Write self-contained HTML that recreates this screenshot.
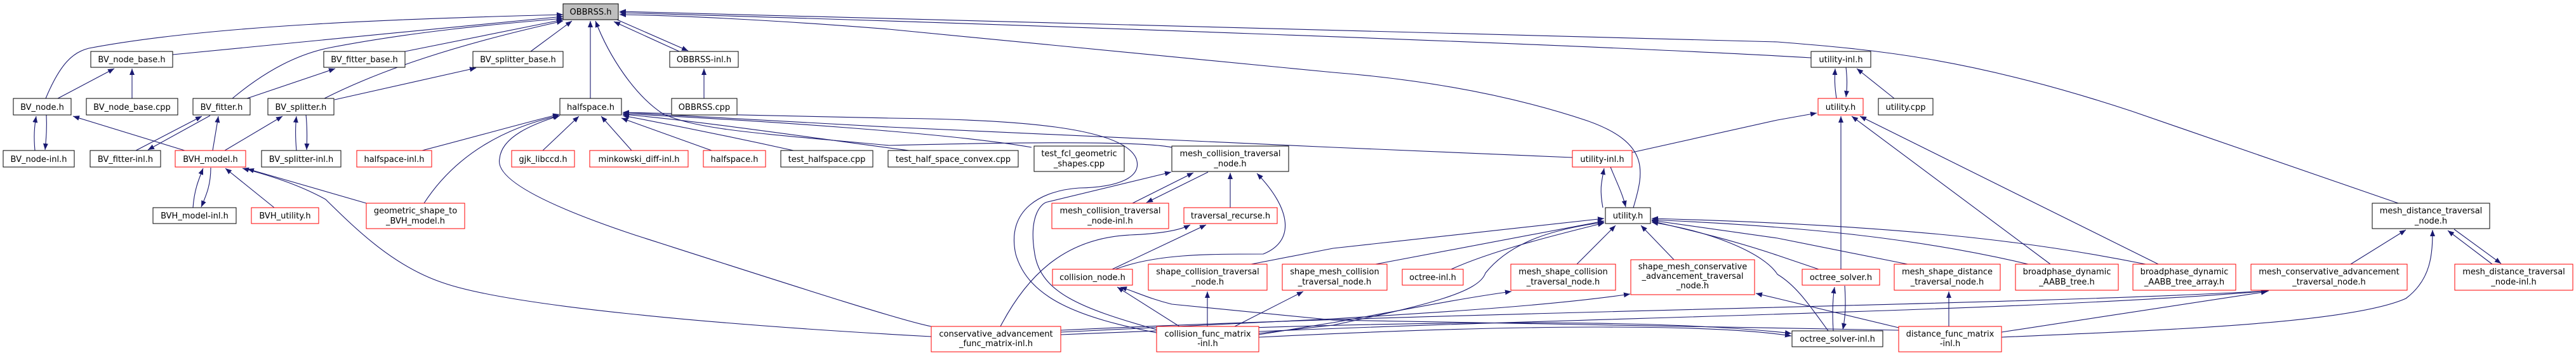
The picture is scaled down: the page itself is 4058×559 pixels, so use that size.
<!DOCTYPE html>
<html><head><meta charset="utf-8"><style>
html,body{margin:0;padding:0;background:#fff;}
svg{display:block;}
text{font-family:"DejaVu Sans","Liberation Sans",sans-serif;font-size:13px;fill:#000;}
.e{fill:none;stroke:#191970;stroke-width:1.1;marker-end:url(#a);}
.n{fill:#fff;stroke:#000;stroke-width:1;}
.r{fill:#fff;stroke:#ff0000;stroke-width:1;}
</style></head><body>
<svg width="4058" height="559" viewBox="0 0 4058 559" xmlns="http://www.w3.org/2000/svg">
<defs><marker id="a" markerUnits="userSpaceOnUse" markerWidth="11" markerHeight="8" refX="10" refY="4" orient="auto"><path d="M0,0 L10,4 L0,8 z" fill="#191970"/></marker></defs>
<g>
<path class="e" d="M72,155 C95,100 115,82 140,76 C330,40 620,30 887,23"/>
<path class="e" d="M272,86 L887,26"/>
<path class="e" d="M366,155 C420,110 470,85 520,75 C650,50 780,38 887,29"/>
<path class="e" d="M638,81 L887,31"/>
<path class="e" d="M511,155 C600,110 720,70 887,33"/>
<path class="e" d="M527,157 L750,107"/>
<path class="e" d="M836,81 L901,33"/>
<path class="e" d="M930,155 L930,33"/>
<path class="e" d="M1070,81 L967,34"/>
<path class="e" d="M972,31 L1084,80"/>
<path class="e" d="M1109,155 L1109,108"/>
<path class="e" d="M2853,91 C2500,70 1500,35 976,20"/>
<path class="e" d="M3778,320 L3358,175 C3100,90 2950,78 2800,66 C2000,40 1400,25 976,18"/>
<path class="e" d="M2573,327 C2590,270 2600,225 2500,190 C2350,140 2200,122 2100,114 L1400,46 C1200,30 1050,24 976,23"/>
<path class="e" d="M1846,232 C1800,222 1600,224 1400,229 C1200,210 1100,205 1044,179 C1000,150 960,90 938,33"/>
<path class="e" d="M1822,524 C1700,500 1620,470 1600,400 C1585,330 1640,300 1700,296 C1760,295 1800,280 1790,250 C1770,200 1600,188 1400,186 L981,177"/>
<path class="e" d="M1822,519 C1700,485 1640,460 1630,400 C1620,340 1640,320 1650,318 L1845,271"/>
<path class="e" d="M855,237 L912,183"/>
<path class="e" d="M995,237 L947,183"/>
<path class="e" d="M1121,237 L979,186"/>
<path class="e" d="M1250,237 C1150,215 1050,195 981,182"/>
<path class="e" d="M1432,237 C1300,220 1100,190 981,180"/>
<path class="e" d="M1625,232 C1500,210 1200,190 981,179"/>
<path class="e" d="M2477,248 L2100,232 L1400,200 C1200,190 1050,180 981,177"/>
<path class="e" d="M665,237 C750,215 820,195 881,180"/>
<path class="e" d="M668,320 C720,240 800,200 881,182"/>
<path class="e" d="M1467,514 C1420,505 1250,450 1000,370 C850,320 780,280 787,250 C790,215 840,195 882,182"/>
<path class="e" d="M291,237 L115,183"/>
<path class="e" d="M335,237 L344,183"/>
<path class="e" d="M354,237 L445,183"/>
<path class="e" d="M304,327 C306,300 312,285 320,265"/>
<path class="e" d="M332,264 C332,290 326,305 317,326"/>
<path class="e" d="M432,327 L355,265"/>
<path class="e" d="M577,320 L390,266"/>
<path class="e" d="M1467,530 C1100,510 800,480 700,446 C620,420 560,360 513,314 C470,290 420,275 382,265"/>
<path class="e" d="M214,237 L318,183"/>
<path class="e" d="M331,182 L233,236"/>
<path class="e" d="M55,237 C53,215 54,200 57,183"/>
<path class="e" d="M73,181 C74,200 73,215 71,236"/>
<path class="e" d="M91,155 L180,108"/>
<path class="e" d="M208,155 L208,108"/>
<path class="e" d="M389,155 L528,108"/>
<path class="e" d="M467,237 C465,215 465,200 467,183"/>
<path class="e" d="M482,181 C484,200 484,215 483,236"/>
<path class="e" d="M1784,320 L1880,272"/>
<path class="e" d="M1903,271 L1806,319"/>
<path class="e" d="M1938,327 L1938,272"/>
<path class="e" d="M1757,424 C1820,400 1900,400 1990,400 C2040,380 2035,330 1980,273"/>
<path class="e" d="M1752,424 L1900,354"/>
<path class="e" d="M1576,514 C1620,430 1680,375 1780,370 C1830,368 1860,362 1875,354"/>
<path class="e" d="M1858,514 L1760,452"/>
<path class="e" d="M2991,520 L2100,504 L1846,479 C1810,470 1790,460 1765,452"/>
<path class="e" d="M1902,514 L1902,459"/>
<path class="e" d="M1945,514 L2053,459"/>
<path class="e" d="M1971,416 L2100,391 L2527,344"/>
<path class="e" d="M2167,416 L2527,348"/>
<path class="e" d="M2286,424 C2350,395 2450,370 2527,351"/>
<path class="e" d="M1983,525 L2100,512 C2250,480 2330,460 2340,430 C2380,380 2450,360 2527,350"/>
<path class="e" d="M2484,416 L2545,355"/>
<path class="e" d="M2637,409 L2585,355"/>
<path class="e" d="M2865,424 L2800,402 C2720,375 2650,360 2602,348"/>
<path class="e" d="M2880,521 C2850,480 2830,450 2800,432 C2780,400 2700,365 2602,350"/>
<path class="e" d="M3005,416 L2800,375 L2602,347"/>
<path class="e" d="M3195,416 C3000,370 2800,355 2602,346"/>
<path class="e" d="M3380,416 C3200,380 3000,355 2602,344"/>
<path class="e" d="M2525,327 C2520,300 2522,290 2527,265"/>
<path class="e" d="M2537,263 C2548,290 2556,305 2561,326"/>
<path class="e" d="M1671,523 L2100,502 C2300,490 2450,480 2568,463"/>
<path class="e" d="M1983,527 L2100,508 C2200,490 2300,470 2381,459"/>
<path class="e" d="M1671,520 C2300,490 3200,480 3572,458"/>
<path class="e" d="M1983,522 C2500,500 3200,490 3574,458"/>
<path class="e" d="M1983,531 C2400,510 2700,510 2822,529"/>
<path class="e" d="M1671,527 C2200,505 2600,500 2822,525"/>
<path class="e" d="M2991,516 L2800,470 L2766,462"/>
<path class="e" d="M3153,523 L3572,459"/>
<path class="e" d="M3153,531 C3400,520 3700,510 3790,470 C3830,440 3832,400 3832,362"/>
<path class="e" d="M2893,155 C2890,135 2890,125 2891,108"/>
<path class="e" d="M2908,106 C2910,125 2910,135 2908,153"/>
<path class="e" d="M2984,155 L2925,108"/>
<path class="e" d="M2571,240 L2800,189 L2862,178"/>
<path class="e" d="M2900,424 L2900,183"/>
<path class="e" d="M3230,416 L2917,183"/>
<path class="e" d="M3400,416 L2930,183"/>
<path class="e" d="M2888,521 C2886,490 2887,470 2890,452"/>
<path class="e" d="M2906,450 C2908,480 2907,500 2903,519"/>
<path class="e" d="M3070,514 L3070,459"/>
<path class="e" d="M3703,416 L3790,362"/>
<path class="e" d="M3926,416 L3856,363"/>
<path class="e" d="M3866,361 L3940,415"/>
</g>
<g text-anchor="middle">
<rect x="887" y="6" width="87" height="25" fill="#bfbfbf" stroke="#000"/><text x="930.5" y="23">OBBRSS.h</text>
<rect class="n" x="143" y="81" width="129" height="25"/><text x="207.5" y="98">BV_node_base.h</text>
<rect class="n" x="510" y="81" width="128" height="25"/><text x="574" y="98">BV_fitter_base.h</text>
<rect class="n" x="745" y="81" width="142" height="25"/><text x="816" y="98">BV_splitter_base.h</text>
<rect class="n" x="1055" y="81" width="108" height="25"/><text x="1109" y="98">OBBRSS-inl.h</text>
<rect class="n" x="2853" y="81" width="94" height="25"/><text x="2900" y="98">utility-inl.h</text>
<rect class="n" x="21" y="155" width="91" height="26"/><text x="66.5" y="173">BV_node.h</text>
<rect class="n" x="136" y="155" width="144" height="26"/><text x="208" y="173">BV_node_base.cpp</text>
<rect class="n" x="304" y="155" width="90" height="26"/><text x="349" y="173">BV_fitter.h</text>
<rect class="n" x="422" y="155" width="104" height="26"/><text x="474" y="173">BV_splitter.h</text>
<rect class="n" x="882" y="155" width="97" height="26"/><text x="930.5" y="173">halfspace.h</text>
<rect class="n" x="1058" y="155" width="103" height="26"/><text x="1109.5" y="173">OBBRSS.cpp</text>
<rect class="r" x="2864" y="155" width="71" height="26"/><text x="2899.5" y="173">utility.h</text>
<rect class="n" x="2959" y="155" width="86" height="26"/><text x="3002" y="173">utility.cpp</text>
<rect class="n" x="5" y="237" width="112" height="26"/><text x="61" y="255">BV_node-inl.h</text>
<rect class="n" x="142" y="237" width="111" height="26"/><text x="197.5" y="255">BV_fitter-inl.h</text>
<rect class="r" x="276" y="237" width="111" height="26"/><text x="331.5" y="255">BVH_model.h</text>
<rect class="n" x="412" y="237" width="125" height="26"/><text x="474.5" y="255">BV_splitter-inl.h</text>
<rect class="r" x="562" y="237" width="118" height="26"/><text x="621" y="255">halfspace-inl.h</text>
<rect class="r" x="806" y="237" width="99" height="26"/><text x="855.5" y="255">gjk_libccd.h</text>
<rect class="r" x="929" y="237" width="155" height="26"/><text x="1006.5" y="255">minkowski_diff-inl.h</text>
<rect class="r" x="1108" y="237" width="98" height="26"/><text x="1157" y="255">halfspace.h</text>
<rect class="n" x="1230" y="237" width="145" height="26"/><text x="1302.5" y="255">test_halfspace.cpp</text>
<rect class="n" x="1399" y="237" width="205" height="26"/><text x="1501.5" y="255">test_half_space_convex.cpp</text>
<rect class="r" x="2477" y="237" width="94" height="26"/><text x="2524" y="255">utility-inl.h</text>
<rect class="n" x="1629" y="230" width="142" height="40"/><text x="1700" y="246">test_fcl_geometric</text><text x="1700" y="262">_shapes.cpp</text>
<rect class="n" x="1846" y="230" width="184" height="40"/><text x="1938" y="246">mesh_collision_traversal</text><text x="1938" y="262">_node.h</text>
<rect class="n" x="241" y="327" width="131" height="25"/><text x="306.5" y="344">BVH_model-inl.h</text>
<rect class="r" x="396" y="327" width="106" height="25"/><text x="449" y="344">BVH_utility.h</text>
<rect class="r" x="1865" y="327" width="147" height="25"/><text x="1938.5" y="344">traversal_recurse.h</text>
<rect class="n" x="2529" y="327" width="71" height="25"/><text x="2564.5" y="344">utility.h</text>
<rect class="r" x="577" y="320" width="155" height="40"/><text x="654.5" y="336">geometric_shape_to</text><text x="654.5" y="352">_BVH_model.h</text>
<rect class="r" x="1657" y="320" width="184" height="40"/><text x="1749" y="336">mesh_collision_traversal</text><text x="1749" y="352">_node-inl.h</text>
<rect class="n" x="3737" y="320" width="185" height="40"/><text x="3829.5" y="336">mesh_distance_traversal</text><text x="3829.5" y="352">_node.h</text>
<rect class="r" x="1658" y="424" width="126" height="25"/><text x="1721" y="441">collision_node.h</text>
<rect class="r" x="2209" y="424" width="96" height="25"/><text x="2257" y="441">octree-inl.h</text>
<rect class="r" x="2839" y="424" width="122" height="25"/><text x="2900" y="441">octree_solver.h</text>
<rect class="r" x="1809" y="416" width="187" height="41"/><text x="1902.5" y="432">shape_collision_traversal</text><text x="1902.5" y="448">_node.h</text>
<rect class="r" x="2020" y="416" width="165" height="41"/><text x="2102.5" y="432">shape_mesh_collision</text><text x="2102.5" y="448">_traversal_node.h</text>
<rect class="r" x="2380" y="416" width="165" height="41"/><text x="2462.5" y="432">mesh_shape_collision</text><text x="2462.5" y="448">_traversal_node.h</text>
<rect class="r" x="2984" y="416" width="167" height="41"/><text x="3067.5" y="432">mesh_shape_distance</text><text x="3067.5" y="448">_traversal_node.h</text>
<rect class="r" x="3175" y="416" width="162" height="41"/><text x="3256" y="432">broadphase_dynamic</text><text x="3256" y="448">_AABB_tree.h</text>
<rect class="r" x="3360" y="416" width="162" height="41"/><text x="3441" y="432">broadphase_dynamic</text><text x="3441" y="448">_AABB_tree_array.h</text>
<rect class="r" x="3546" y="416" width="246" height="41"/><text x="3669" y="432">mesh_conservative_advancement</text><text x="3669" y="448">_traversal_node.h</text>
<rect class="r" x="3867" y="416" width="186" height="41"/><text x="3960" y="432">mesh_distance_traversal</text><text x="3960" y="448">_node-inl.h</text>
<rect class="r" x="2569" y="409" width="195" height="55"/><text x="2666.5" y="424">shape_mesh_conservative</text><text x="2666.5" y="439">_advancement_traversal</text><text x="2666.5" y="454">_node.h</text>
<rect class="r" x="1467" y="514" width="204" height="40"/><text x="1569" y="530">conservative_advancement</text><text x="1569" y="545">_func_matrix-inl.h</text>
<rect class="r" x="1822" y="514" width="161" height="40"/><text x="1902.5" y="530">collision_func_matrix</text><text x="1902.5" y="545">-inl.h</text>
<rect class="r" x="2991" y="514" width="162" height="40"/><text x="3072" y="530">distance_func_matrix</text><text x="3072" y="545">-inl.h</text>
<rect class="n" x="2823" y="521" width="143" height="25"/><text x="2894.5" y="538">octree_solver-inl.h</text>
</g>
</svg>
</body></html>
